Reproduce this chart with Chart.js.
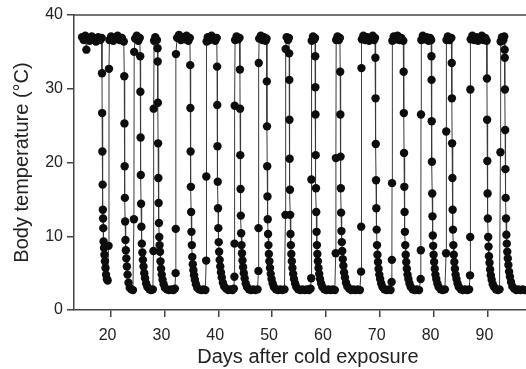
<!DOCTYPE html>
<html>
<head>
<meta charset="utf-8">
<script src="https://cdn.jsdelivr.net/npm/chart.js@4"></script>
<style>
  html, body { margin: 0; padding: 0; background: #fff; overflow: hidden; }
  canvas { display: block; }
</style>
</head>
<body>
<canvas id="chart" width="546" height="369"></canvas>
<script>
// Lectures [jour, °C], bout par bout
const euthermiaStart = [[14.7,37.0],[15.0,36.6],[15.3,37.2],[15.5,35.3],[15.7,36.8],[16.1,36.5],[16.5,37.1],[16.9,36.7],[17.3,36.4],[17.7,37.0],[18.1,36.6],[18.35,36.9]];
const bout01 = [[18.40,32.1],[18.43,26.7],[18.47,21.5],[18.52,17.0],[18.56,13.6],[18.60,12.4],[18.64,11.1],[18.70,9.3],[18.78,8.4],[18.86,7.5],[18.95,6.6],[19.05,5.7],[19.15,4.8],[19.30,4.2],[19.45,4.0],[19.62,8.7],[19.70,32.7],[19.78,36.6],[20.1,37.1],[20.5,36.5],[20.9,36.9],[21.3,37.2],[21.7,36.6],[22.1,36.9],[22.45,36.4]];
const bout02 = [[22.54,31.7],[22.57,25.3],[22.61,19.5],[22.65,15.2],[22.70,12.0],[22.76,9.5],[22.83,8.1],[22.92,7.0],[23.02,5.9],[23.15,4.8],[23.32,3.7],[23.55,3.0],[23.85,2.8],[24.15,2.7],[24.33,12.3],[24.38,35.0],[24.55,36.8],[24.85,37.2],[25.15,36.5],[25.42,36.9]];
const bout03 = [[25.50,34.4],[25.53,29.6],[25.57,23.4],[25.61,18.3],[25.66,14.4],[25.72,11.3],[25.80,9.0],[25.90,7.8],[26.0,6.8],[26.12,5.9],[26.25,5.0],[26.4,4.3],[26.6,3.6],[26.85,3.1],[27.2,2.8],[27.55,2.7],[27.85,2.8],[27.96,8.0],[28.0,27.3],[28.08,36.5],[28.3,37.0],[28.6,36.6]];
const bout04 = [[28.72,35.5],[28.75,33.7],[28.78,28.1],[28.82,22.6],[28.87,17.9],[28.92,14.5],[28.98,11.8],[29.04,9.9],[29.10,8.8],[29.18,7.9],[29.27,6.6],[29.38,5.6],[29.5,4.8],[29.65,4.1],[29.85,3.5],[30.1,3.0],[30.45,2.8],[30.85,2.7],[31.25,2.8],[31.65,2.7],[31.95,2.9],[32.08,5.0],[32.10,11.0],[32.14,34.7],[32.35,36.9],[32.7,37.3],[33.05,36.6],[33.4,37.0],[33.75,36.7],[34.1,37.2],[34.45,36.5],[34.72,36.9]];
const bout05 = [[34.79,33.2],[34.82,27.4],[34.86,21.5],[34.91,16.7],[34.96,13.3],[35.02,10.6],[35.09,8.8],[35.17,7.2],[35.27,6.2],[35.38,5.4],[35.5,4.7],[35.65,4.1],[35.85,3.5],[36.1,3.0],[36.45,2.8],[36.85,2.7],[37.25,2.8],[37.6,2.7],[37.75,6.7],[37.78,18.1],[37.84,36.4],[38.05,37.0],[38.4,36.6],[38.75,37.2],[39.1,36.8],[39.45,36.5],[39.72,36.9]];
const bout06 = [[39.78,33.0],[39.81,27.8],[39.85,22.2],[39.90,17.4],[39.95,13.8],[40.01,11.1],[40.08,9.2],[40.16,7.9],[40.26,6.8],[40.37,5.9],[40.5,5.1],[40.65,4.4],[40.85,3.7],[41.1,3.2],[41.45,2.9],[41.85,2.7],[42.25,2.8],[42.65,2.7],[42.9,2.9],[43.0,4.5],[43.02,9.0],[43.05,27.7],[43.12,36.6],[43.4,37.1],[43.7,36.7],[43.95,36.9]];
const bout07 = [[44.02,32.6],[44.05,27.3],[44.09,21.0],[44.14,16.4],[44.19,12.8],[44.25,10.4],[44.32,8.8],[44.4,7.7],[44.5,6.7],[44.61,5.8],[44.74,5.0],[44.9,4.3],[45.1,3.6],[45.35,3.1],[45.7,2.8],[46.1,2.7],[46.5,2.8],[46.9,2.7],[47.3,2.8],[47.46,5.3],[47.48,11.1],[47.52,33.5],[47.6,36.8],[47.9,37.2],[48.2,36.6],[48.5,37.0],[48.8,36.5],[48.97,36.8]];
const bout08 = [[49.02,31.0],[49.05,24.9],[49.09,19.5],[49.14,15.4],[49.19,12.3],[49.25,10.3],[49.32,8.8],[49.4,7.6],[49.5,6.6],[49.61,5.7],[49.74,4.9],[49.9,4.2],[50.1,3.6],[50.35,3.1],[50.7,2.8],[51.1,2.7],[51.5,2.8],[51.9,2.7],[52.3,2.8],[52.48,12.9],[52.52,35.4],[52.7,37.0],[52.95,36.6],[53.12,36.9]];
const bout09 = [[53.17,34.8],[53.19,31.2],[53.22,25.8],[53.26,20.5],[53.31,16.3],[53.36,12.9],[53.42,10.3],[53.49,8.8],[53.57,7.6],[53.67,6.6],[53.78,5.7],[53.91,4.9],[54.07,4.2],[54.27,3.6],[54.52,3.1],[54.85,2.8],[55.25,2.7],[55.65,2.8],[56.05,2.7],[56.45,2.8],[56.85,2.7],[57.15,2.9],[57.27,4.3],[57.3,17.7],[57.36,36.5],[57.6,37.1],[57.85,36.7],[57.97,36.9]];
const bout10 = [[58.01,34.4],[58.03,30.2],[58.06,26.5],[58.1,21.0],[58.15,16.5],[58.2,13.3],[58.26,10.6],[58.33,8.8],[58.41,7.6],[58.51,6.6],[58.62,5.7],[58.75,4.9],[58.91,4.2],[59.11,3.6],[59.36,3.1],[59.7,2.8],[60.1,2.7],[60.5,2.8],[60.9,2.7],[61.3,2.8],[61.65,2.7],[61.82,7.7],[61.85,20.6],[61.9,36.6],[62.15,37.1],[62.4,36.6],[62.6,36.9]];
const bout11 = [[62.65,32.3],[62.68,26.5],[62.72,20.8],[62.77,16.5],[62.82,13.2],[62.88,10.7],[62.95,9.2],[63.03,8.0],[63.13,6.9],[63.24,6.0],[63.37,5.1],[63.53,4.4],[63.73,3.7],[63.98,3.2],[64.3,2.9],[64.7,2.7],[65.1,2.8],[65.5,2.7],[65.9,2.8],[66.3,2.7],[66.52,5.2],[66.55,11.3],[66.6,32.8],[66.68,36.7],[66.95,37.2],[67.3,36.6],[67.65,37.0],[68.0,36.5],[68.35,36.9],[68.7,37.2],[68.95,36.6],[69.12,36.9]];
const bout12 = [[69.19,34.2],[69.22,28.7],[69.26,22.5],[69.31,17.6],[69.36,13.8],[69.42,10.9],[69.49,8.8],[69.57,7.5],[69.67,6.5],[69.78,5.6],[69.91,4.8],[70.07,4.2],[70.27,3.6],[70.52,3.1],[70.85,2.8],[71.25,2.7],[71.65,2.8],[72.0,2.7],[72.2,3.8],[72.25,6.8],[72.28,17.2],[72.34,36.5],[72.6,37.1],[72.95,36.7],[73.3,37.2],[73.65,36.6],[74.0,36.9],[74.37,36.5]];
const bout13 = [[74.44,32.3],[74.47,26.7],[74.51,21.3],[74.56,16.7],[74.61,13.3],[74.67,10.6],[74.74,8.8],[74.82,7.5],[74.92,6.5],[75.03,5.6],[75.16,4.8],[75.32,4.2],[75.52,3.6],[75.77,3.1],[76.1,2.8],[76.5,2.7],[76.9,2.8],[77.3,2.7],[77.6,4.2],[77.63,8.1],[77.66,26.5],[77.72,36.6],[78.0,37.2],[78.35,36.7],[78.7,37.0],[79.05,36.5],[79.35,36.9],[79.55,36.6]];
const bout14 = [[79.6,34.4],[79.62,31.2],[79.65,25.6],[79.69,20.1],[79.74,15.8],[79.79,12.7],[79.85,10.1],[79.92,8.7],[80.0,7.5],[80.1,6.5],[80.21,5.6],[80.34,4.8],[80.5,4.2],[80.7,3.6],[80.95,3.1],[81.3,2.8],[81.7,2.7],[82.1,2.8],[82.32,7.7],[82.35,24.2],[82.4,36.6],[82.65,37.1],[82.95,36.6],[83.3,36.9]];
const bout15 = [[83.37,33.5],[83.4,28.7],[83.44,22.6],[83.49,17.9],[83.54,13.6],[83.6,10.9],[83.67,8.8],[83.75,7.5],[83.85,6.5],[83.96,5.6],[84.09,4.8],[84.25,4.2],[84.45,3.6],[84.7,3.1],[85.05,2.8],[85.45,2.7],[85.85,2.8],[86.25,2.7],[86.6,2.8],[86.77,4.7],[86.8,9.9],[86.83,29.9],[86.9,36.7],[87.2,37.2],[87.55,36.6],[87.9,37.0],[88.25,36.5],[88.6,36.9],[88.95,37.2],[89.3,36.6],[89.6,36.9],[89.85,36.5]];
const bout16 = [[89.91,31.4],[89.94,25.8],[89.98,20.2],[90.03,15.8],[90.08,12.4],[90.14,9.9],[90.21,8.6],[90.29,7.3],[90.39,6.4],[90.5,5.5],[90.63,4.7],[90.79,4.1],[90.99,3.5],[91.24,3.1],[91.57,2.8],[91.95,2.7],[92.25,2.8],[92.42,21.4],[92.46,36.4],[92.7,37.0],[92.95,36.6],[93.12,37.1]];
const bout17 = [[93.2,35.3],[93.22,34.2],[93.25,29.9],[93.29,24.4],[93.34,19.1],[93.39,15.2],[93.45,12.4],[93.52,10.2],[93.6,9.0],[93.68,7.9],[93.78,7.0],[93.89,6.1],[94.02,5.2],[94.18,4.5],[94.38,3.8],[94.63,3.2],[94.95,2.9],[95.35,2.7],[95.75,2.8],[96.15,2.7],[96.55,2.8],[96.95,2.7]];

const xTicks = [20, 30, 40, 50, 60, 70, 80, 90];
const yTicks = [0, 10, 20, 30, 40];

const readings = [euthermiaStart, bout01, bout02, bout03, bout04, bout05, bout06, bout07, bout08,
  bout09, bout10, bout11, bout12, bout13, bout14, bout15, bout16, bout17].flat();

const FONT = '"Liberation Sans", Arial, Helvetica, sans-serif';
Chart.defaults.font.family = FONT;
Chart.defaults.color = '#222';

// cadre du haut
const topFrame = {
  id: 'topFrame',
  afterDraw(chart) {
    const { ctx, chartArea } = chart;
    ctx.save();
    ctx.strokeStyle = '#444';
    ctx.lineWidth = 1.5;
    ctx.beginPath();
    ctx.moveTo(chartArea.left, chartArea.top);
    ctx.lineTo(chart.width, chartArea.top);
    ctx.stroke();
    ctx.restore();
  }
};

new Chart(document.getElementById('chart'), {
  type: 'scatter',
  data: {
    datasets: [{
      data: readings.map(r => ({ x: r[0], y: r[1] })),
      showLine: true,
      borderColor: '#3a3a3a',
      borderWidth: 1,
      pointRadius: 4.2,
      pointBackgroundColor: '#0d0d0d',
      pointBorderWidth: 0,
      tension: 0
    }]
  },
  options: {
    responsive: false,
    animation: false,
    layout: { padding: { top: 15, right: 0, bottom: 0, left: 0 } },
    plugins: { legend: { display: false }, tooltip: { enabled: false } },
    scales: {
      x: {
        type: 'linear',
        min: 13.2,
        max: 100.1,
        afterBuildTicks: s => { s.ticks = xTicks.map(v => ({ value: v })); },
        afterFit: s => { s.height = 59; },
        grid: { drawOnChartArea: false, drawTicks: true, tickLength: 7, color: '#444', lineWidth: 1.5 },
        border: { color: '#444', width: 1.5 },
        ticks: { font: { size: 16 }, padding: 9, labelOffset: -3, maxRotation: 0, autoSkip: false },
        title: { display: true, text: 'Days after cold exposure', font: { size: 20 }, padding: { top: 0, bottom: 0 } }
      },
      y: {
        min: 0,
        max: 40,
        afterBuildTicks: s => { s.ticks = yTicks.map(v => ({ value: v })); },
        afterFit: s => { s.width = 74; },
        grid: { drawOnChartArea: false, drawTicks: true, tickLength: 7, color: '#444', lineWidth: 1.5 },
        border: { color: '#444', width: 1.5 },
        ticks: { font: { size: 16 }, padding: 4 },
        title: { display: true, text: 'Body temperature (°C)', font: { size: 20 }, padding: { top: 10, bottom: 0 } }
      }
    }
  },
  plugins: [topFrame]
});
</script>
</body>
</html>
